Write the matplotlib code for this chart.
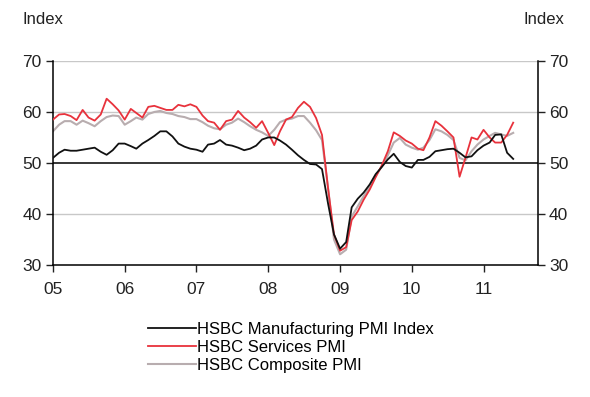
import numpy as np
import pandas as pd
import matplotlib
matplotlib.use("Agg")
import matplotlib.pyplot as plt

plt.rcParams['font.family'] = ['Liberation Sans', 'DejaVu Sans']

# monthly data, Jan 2005 - Jun 2011
months = pd.date_range("2005-01-01", periods=78, freq="MS")

manufacturing = [
    51.0, 52.0, 52.6, 52.4, 52.4, 52.6, 52.8, 53.0, 52.2, 51.6, 52.5, 53.8,
    53.8, 53.3, 52.8, 53.8, 54.5, 55.3, 56.2, 56.2, 55.2, 53.8, 53.2, 52.8,
    52.6, 52.2, 53.6, 53.8, 54.5, 53.6, 53.4, 53.0, 52.5, 52.8, 53.4, 54.6,
    55.0, 55.0, 54.4, 53.6, 52.6, 51.5, 50.6, 49.8, 49.7, 48.8, 42.0, 36.0,
    33.2, 34.5, 41.3, 43.0, 44.2, 45.8, 47.8, 49.2, 50.7, 51.8, 50.2, 49.4,
    49.1, 50.6, 50.6, 51.2, 52.3, 52.5, 52.7, 52.8, 52.0, 51.1, 51.3, 52.5,
    53.4, 54.0, 55.5, 55.6, 52.0, 50.8,
]
services = [
    58.5, 59.5, 59.6, 59.2, 58.4, 60.4, 58.9, 58.3, 59.5, 62.6, 61.5, 60.3,
    58.5, 60.6, 59.8, 58.9, 61.0, 61.2, 60.8, 60.4, 60.4, 61.4, 61.1, 61.5,
    61.0, 59.3, 58.2, 57.9, 56.5, 58.2, 58.5, 60.2, 58.9, 58.0, 56.9, 58.2,
    55.9, 53.5, 56.2, 58.5, 59.0, 60.8, 62.0, 61.0, 58.8, 55.5, 45.0, 36.0,
    32.8, 33.5, 38.8, 40.5, 42.8, 44.8, 47.2, 49.5, 52.3, 56.0, 55.3, 54.4,
    53.8, 52.8, 52.5, 55.0, 58.2, 57.3, 56.2, 55.0, 47.3, 51.0, 55.0, 54.6,
    56.5, 55.0, 54.0, 54.0, 55.5, 57.9,
]
composite = [
    56.2, 57.5, 58.2, 58.2, 57.5, 58.3, 57.8, 57.2, 58.2, 59.0, 59.3, 59.2,
    57.5, 58.2, 58.9, 58.5, 59.6, 60.0, 60.2, 59.8, 59.6, 59.2, 59.0, 58.6,
    58.6, 58.0, 57.3, 56.8, 56.6, 57.5, 57.9, 58.7, 58.0, 57.2, 56.5, 56.0,
    55.3, 56.5, 58.0, 58.5, 58.7, 59.2, 59.2, 57.9, 56.4, 54.5, 45.0, 35.0,
    32.1, 33.0, 39.5, 41.5, 43.5, 45.3, 47.5, 49.3, 51.5, 54.0, 54.9, 53.6,
    53.0, 52.6, 53.0, 54.5, 56.6, 56.2, 55.5, 54.5, 51.0, 50.5, 52.3, 53.6,
    54.6, 55.3, 55.9, 55.6, 55.3, 55.9,
]

year_ticks = pd.date_range("2005-01-01", "2011-01-01", freq="YS")
year_labels = ["05", "06", "07", "08", "09", "10", "11"]
y_ticks = [30, 40, 50, 60, 70]

fig = plt.figure(figsize=(5.9, 3.97), dpi=100)
ax = fig.add_axes([0.0898, 0.3325, 0.822, 0.514])

for y in [40, 60, 70]:
    ax.axhline(y, color="#c8c8c8", lw=1.0, zorder=1)
ax.axhline(50, color="black", lw=1.1, zorder=1)

ax.plot(months, composite, color="#b8adaf", lw=1.5, zorder=2, label="HSBC Composite PMI")
ax.plot(months, services, color="#e8323c", lw=1.3, zorder=3, label="HSBC Services PMI")
ax.plot(months, manufacturing, color="#111111", lw=1.3, zorder=4,
        label="HSBC Manufacturing PMI Index")

ax.set_ylim(30, 70)
ax.set_xlim(pd.Timestamp("2005-01-01"), pd.Timestamp("2011-10-05"))
ax.set_yticks(y_ticks)
ax.set_xticks(year_ticks)
ax.set_xticklabels(year_labels)

ax.tick_params(axis="y", which="both", left=True, right=True, labelleft=True,
               labelright=True, direction="out", length=5, width=1,
               labelsize=12.5, colors="#222222", pad=3)
ax.tick_params(axis="x", direction="out", length=5, width=1, labelsize=12.5,
               colors="#222222", pad=7)

ax.spines["top"].set_visible(False)
for side in ["left", "right", "bottom"]:
    ax.spines[side].set_color("black")
    ax.spines[side].set_linewidth(1.1)

fig.text(0.038, 0.94, "Index", fontsize=12, color="#222222")
fig.text(0.888, 0.94, "Index", fontsize=12, color="#222222")

handles, labels = ax.get_legend_handles_labels()
order = [2, 1, 0]
fig.legend([handles[i] for i in order], [labels[i] for i in order],
           loc="upper left", bbox_to_anchor=(0.251, 0.19), frameon=False,
           fontsize=12, handlelength=2.9, handletextpad=0.05,
           labelspacing=0.2, borderaxespad=0, borderpad=0)

fig.savefig("out.png", dpi=100, facecolor="white")
